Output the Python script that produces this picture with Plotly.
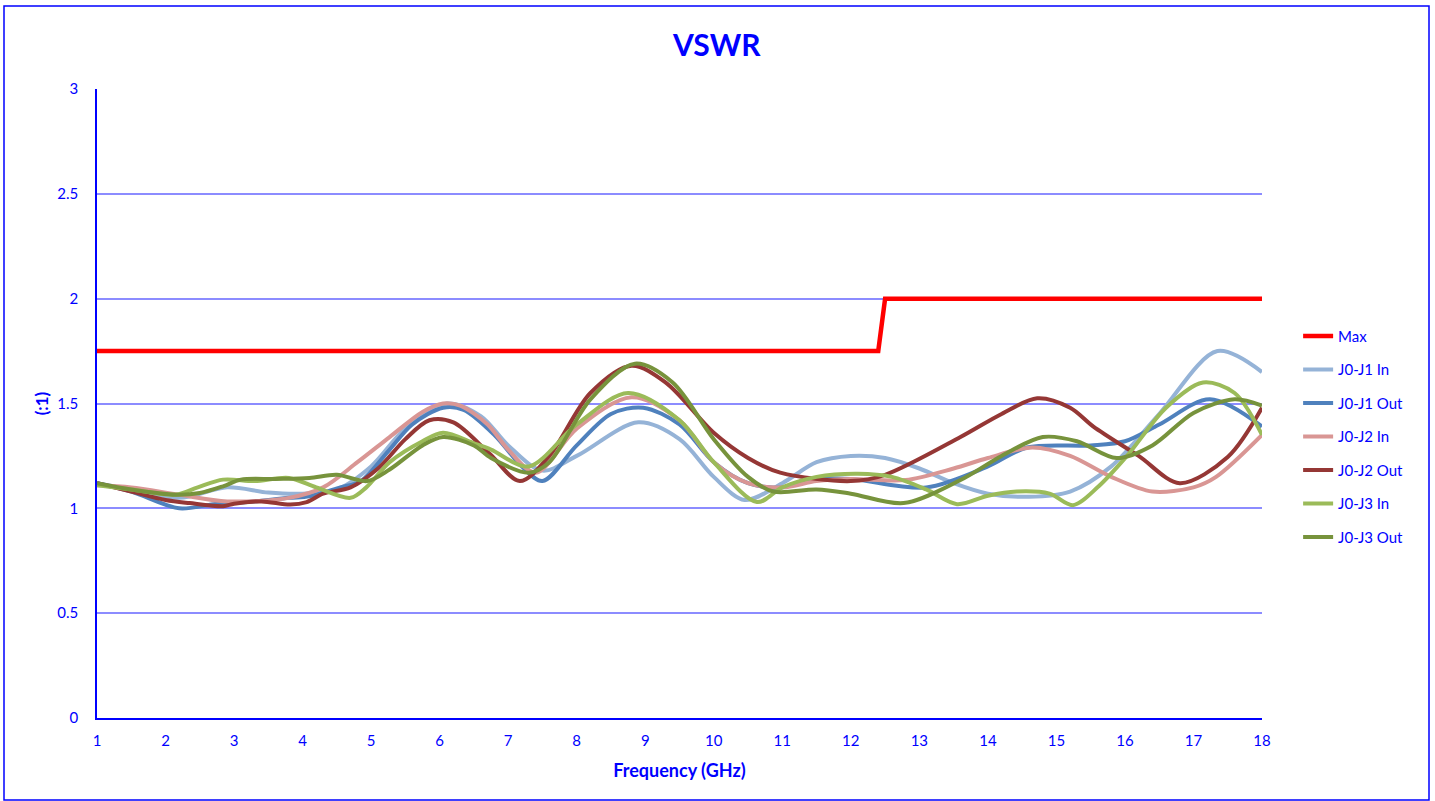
import plotly.graph_objects as go

max_x = [1, 12.4, 12.5, 18]
max_y = [1.75, 1.75, 2.0, 2.0]

j1_in_x = [1, 1.5, 2.2, 2.9, 3.5, 4, 4.5, 5, 5.5, 6.1, 6.6, 7, 7.5, 8, 8.9, 9.5, 10, 10.45, 11, 11.5, 12, 12.5, 13, 13.5, 14, 14.6, 15.2, 15.8, 16.5, 17.35, 18]
j1_in_y = [1.12, 1.09, 1.05, 1.10, 1.075, 1.07, 1.09, 1.2, 1.38, 1.5, 1.44, 1.3, 1.18, 1.25, 1.41, 1.33, 1.15, 1.04, 1.12, 1.22, 1.25, 1.24, 1.19, 1.12, 1.07, 1.055, 1.08, 1.2, 1.45, 1.75, 1.65]

j1_out_x = [1, 1.5, 2.2, 2.7, 3.2, 3.8, 4.1, 4.55, 4.85, 5.27, 5.6, 6.05, 6.35, 6.8, 7.2, 7.5, 8, 8.5, 8.97, 9.5, 10, 10.5, 11, 11.45, 12, 13.1, 14, 14.57, 15.5, 16, 16.5, 17.24, 18]
j1_out_y = [1.12, 1.08, 1.0, 1.02, 1.03, 1.05, 1.057, 1.10, 1.13, 1.28, 1.40, 1.48, 1.47, 1.35, 1.2, 1.13, 1.3, 1.45, 1.48, 1.4, 1.22, 1.12, 1.1, 1.14, 1.14, 1.10, 1.2, 1.29, 1.30, 1.32, 1.4, 1.52, 1.39]

j2_in_x = [1, 1.5, 2.2, 2.9, 3.8, 4.3, 4.8, 5.27, 5.75, 6.05, 6.3, 6.7, 7, 7.4, 8, 8.8, 9.5, 10, 10.5, 11, 11.5, 12, 12.8, 13.5, 14, 14.65, 15.2, 15.8, 16.4, 17, 17.33, 18]
j2_in_y = [1.11, 1.1, 1.065, 1.033, 1.05, 1.10, 1.22, 1.34, 1.46, 1.5, 1.49, 1.4, 1.28, 1.17, 1.38, 1.53, 1.42, 1.22, 1.12, 1.1, 1.13, 1.14, 1.135, 1.19, 1.24, 1.29, 1.25, 1.15, 1.08, 1.10, 1.15, 1.35]

j2_out_x = [1, 1.5, 2, 2.35, 2.84, 3.0, 3.4, 3.82, 4.06, 4.3, 4.7, 5.1, 5.5, 5.85, 6.2, 6.73, 7.17, 7.6, 8.2, 8.8, 9.3, 10, 10.5, 10.97, 12, 12.5, 13.6, 14.2, 14.72, 15.2, 15.54, 16.2, 16.8, 17.5, 18]
j2_out_y = [1.12, 1.08, 1.04, 1.025, 1.01, 1.022, 1.033, 1.018, 1.03, 1.07, 1.10, 1.19, 1.33, 1.42, 1.41, 1.26, 1.13, 1.25, 1.55, 1.68, 1.6, 1.36, 1.24, 1.17, 1.13, 1.16, 1.34, 1.45, 1.525, 1.48, 1.39, 1.25, 1.12, 1.245, 1.48]

j3_in_x = [1, 1.5, 2.15, 2.47, 2.84, 3.3, 3.8, 4.2, 4.7, 4.93, 5.27, 5.75, 6.05, 6.5, 6.75, 7.3, 8, 8.75, 9.5, 10, 10.63, 11, 11.5, 12.1, 12.6, 13.1, 13.55, 14, 14.42, 14.9, 15.24, 15.6, 16.03, 16.6, 17.14, 17.6, 18]
j3_in_y = [1.11, 1.09, 1.065, 1.10, 1.137, 1.13, 1.145, 1.10, 1.05, 1.10, 1.22, 1.32, 1.36, 1.31, 1.28, 1.2, 1.4, 1.55, 1.42, 1.22, 1.03, 1.1, 1.15, 1.165, 1.15, 1.09, 1.02, 1.06, 1.08, 1.07, 1.015, 1.1, 1.25, 1.48, 1.60, 1.55, 1.35]

j3_out_x = [1, 1.5, 2.15, 2.5, 2.84, 3.1, 3.6, 4.1, 4.5, 4.94, 5.27, 5.75, 6.05, 6.5, 6.75, 7.3, 7.6, 8.2, 8.85, 9.4, 10, 10.5, 10.87, 11.5, 12, 12.77, 13.6, 14.2, 14.8, 15.3, 15.88, 16.4, 17, 17.6, 18]
j3_out_y = [1.12, 1.09, 1.065, 1.073, 1.105, 1.137, 1.14, 1.145, 1.16, 1.13, 1.185, 1.30, 1.34, 1.30, 1.24, 1.17, 1.22, 1.52, 1.69, 1.6, 1.33, 1.15, 1.08, 1.09, 1.07, 1.025, 1.135, 1.25, 1.34, 1.32, 1.24, 1.3, 1.455, 1.52, 1.49]

series = [
    ("Max", max_x, max_y, "#FF0000", "linear"),
    ("J0-J1 In", j1_in_x, j1_in_y, "#95B3D7", "spline"),
    ("J0-J1 Out", j1_out_x, j1_out_y, "#4F81BD", "spline"),
    ("J0-J2 In", j2_in_x, j2_in_y, "#D99694", "spline"),
    ("J0-J2 Out", j2_out_x, j2_out_y, "#953735", "spline"),
    ("J0-J3 In", j3_in_x, j3_in_y, "#9BBB59", "spline"),
    ("J0-J3 Out", j3_out_x, j3_out_y, "#77933C", "spline"),
]

x_ticks = list(range(1, 19))
y_ticks = [0, 0.5, 1, 1.5, 2, 2.5, 3]
y_tick_labels = ["0", "0.5", "1", "1.5", "2", "2.5", "3"]

BLUE = "#0000FF"
FONT = "Lato"

fig = go.Figure()
for i, (name, xs, ys, color, shape) in enumerate(series):
    line = dict(color=color, width=4.5 if name == "Max" else 4, shape=shape)
    if shape == "spline":
        line["smoothing"] = 0.9
    fig.add_trace(go.Scatter(x=xs, y=ys, mode="lines", name=name, line=line,
                             legendgroup=f"g{i}"))

fig.update_layout(
    width=1435, height=801,
    paper_bgcolor="white", plot_bgcolor="white",
    margin=dict(l=97, r=173, t=89, b=83),
    font=dict(family=FONT, color=BLUE, size=15),
    title=dict(text="<b>VSWR</b>", x=0.4995, xanchor="center", xref="container",
               y=0.943, yanchor="middle",
               font=dict(size=30, color=BLUE, family=FONT)),
    showlegend=True,
    legend=dict(x=1.031, xanchor="left", y=0.447, yanchor="middle",
                font=dict(size=15, color=BLUE, family=FONT),
                traceorder="grouped", tracegroupgap=11,
                bgcolor="rgba(0,0,0,0)"),
    xaxis=dict(range=[1, 18], tickvals=x_ticks, ticktext=[str(v) for v in x_ticks],
               showgrid=False, zeroline=False, showline=True, linecolor=BLUE, linewidth=1.5,
               ticks="", ticklabelstandoff=8, tickfont=dict(size=15, color=BLUE),
               title=dict(text="<b>Frequency (GHz)</b>", font=dict(size=18, color=BLUE), standoff=17)),
    yaxis=dict(range=[0, 3], tickvals=y_ticks, ticktext=y_tick_labels,
               showgrid=True, gridcolor="#8C8CFF", gridwidth=1.5, zeroline=False,
               showline=True, linecolor=BLUE, linewidth=1.5,
               ticks="", ticklabelstandoff=14, tickfont=dict(size=15, color=BLUE),
               title=dict(text="<b>(:1)</b>", font=dict(size=17, color=BLUE), standoff=4)),
)

fig.add_shape(type="rect", xref="paper", yref="paper",
              x0=(4 - 97) / 1165, x1=(1429 - 97) / 1165,
              y0=(718 - 800) / 629, y1=(718 - 6) / 629,
              line=dict(color=BLUE, width=1.5), fillcolor="rgba(0,0,0,0)", layer="below")

fig.write_html("out.html", config={"displayModeBar": False},
               post_script="document.body.style.margin='0';document.body.style.overflow='hidden';")
